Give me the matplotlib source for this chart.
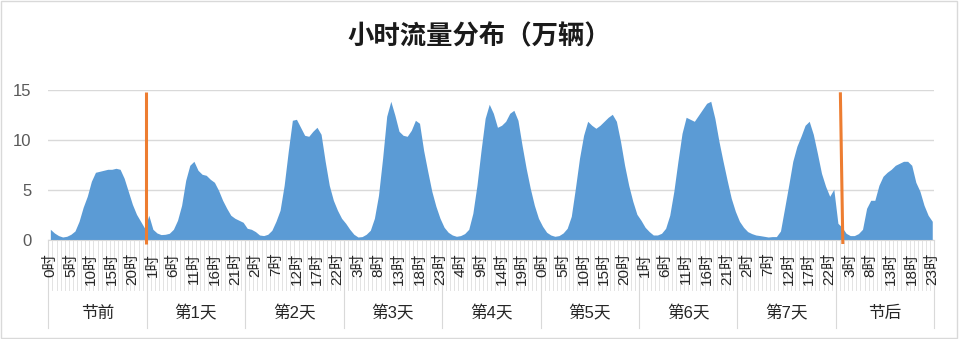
import matplotlib
matplotlib.use("Agg")
import matplotlib.pyplot as plt
from matplotlib.patches import Rectangle

plt.rcParams['font.family'] = ['Liberation Sans', 'Noto Sans CJK SC', 'DejaVu Sans']

# 分组（每组 24 小时）
groups = ["节前", "第1天", "第2天", "第3天", "第4天", "第5天", "第6天", "第7天", "节后"]

# 每小时流量（万辆）
jieqian = [1.1, 0.73, 0.47, 0.33, 0.4, 0.6, 0.93, 1.9, 3.3, 4.4, 5.9, 6.8,
           6.9, 7.0, 7.1, 7.1, 7.2, 7.1, 6.2, 4.9, 3.6, 2.6, 1.9, 1.2]
day1 = [2.5, 1.1, 0.73, 0.57, 0.6, 0.7, 1.1, 2.0, 3.5, 6.0, 7.5, 7.9,
        7.0, 6.6, 6.5, 6.1, 5.8, 5.0, 4.0, 3.2, 2.5, 2.2, 2.0, 1.8]
day2 = [1.2, 1.1, 0.87, 0.53, 0.47, 0.6, 1.0, 1.9, 3.0, 5.5, 8.9, 12.0,
        12.1, 11.3, 10.5, 10.4, 10.9, 11.3, 10.6, 7.9, 5.5, 4.0, 3.0, 2.2]
day3 = [1.7, 1.1, 0.6, 0.33, 0.37, 0.6, 1.0, 2.2, 4.5, 8.2, 12.4, 13.9,
        12.5, 10.9, 10.5, 10.4, 11.0, 12.0, 11.7, 9.0, 6.9, 4.9, 3.4, 2.2]
day4 = [1.3, 0.8, 0.53, 0.4, 0.47, 0.67, 1.1, 2.7, 5.5, 9.0, 12.2, 13.6,
        12.7, 11.3, 11.5, 11.9, 12.7, 13.0, 12.0, 9.5, 7.2, 5.2, 3.5, 2.2]
day5 = [1.4, 0.8, 0.53, 0.4, 0.47, 0.73, 1.2, 2.4, 5.2, 8.2, 10.5, 11.9,
        11.5, 11.2, 11.5, 11.9, 12.3, 12.6, 11.9, 9.9, 7.5, 5.5, 3.9, 2.6]
day6 = [2.0, 1.3, 0.87, 0.53, 0.53, 0.7, 1.2, 2.5, 4.9, 7.9, 10.7, 12.3,
        12.1, 11.9, 12.5, 13.1, 13.7, 13.9, 12.2, 9.9, 7.9, 6.0, 4.2, 2.9]
day7 = [1.9, 1.3, 0.87, 0.67, 0.53, 0.47, 0.4, 0.33, 0.37, 0.37, 0.93, 3.2,
        5.5, 7.9, 9.4, 10.4, 11.5, 11.9, 10.6, 8.7, 6.7, 5.4, 4.4, 5.1]
jiehou = [1.7, 1.3, 0.7, 0.47, 0.47, 0.67, 1.1, 3.2, 4.0, 4.0, 5.5, 6.4,
          6.8, 7.1, 7.5, 7.7, 7.9, 7.9, 7.5, 5.8, 4.9, 3.5, 2.5, 1.9]

# 节日起止标记线（橙色）
marker_x = [(23.2, 23.2), (193.2, 192.6)]
marker_y = (-0.37, 14.8)

values = jieqian + day1 + day2 + day3 + day4 + day5 + day6 + day7 + jiehou
hours = list(range(len(values)))
tick_pos = list(range(0, len(values), 5))
tick_labels = [f"{h % 24}时" for h in tick_pos]

fig = plt.figure(figsize=(9.59, 3.39), dpi=100)
ax = fig.add_axes([48.3 / 959, 1 - 240.3 / 339, 886 / 959, 150 / 339])

ax.fill_between(hours, values, 0, color='#5b9bd5', linewidth=0, zorder=2)
for xs in marker_x:
    ax.plot(xs, marker_y, color='#ed7d31', linewidth=2.2, clip_on=False,
            solid_capstyle='butt', zorder=4)

ax.set_xlim(-0.5, len(values) - 0.5)
ax.set_ylim(0, 15)
ax.set_yticks([0, 5, 10, 15])
ax.grid(axis='y', color='#d9d9d9', linewidth=1)
ax.set_axisbelow(True)
for s in ['top', 'right', 'left']:
    ax.spines[s].set_visible(False)
ax.spines['bottom'].set_color('#d9d9d9')
ax.tick_params(axis='y', length=0, labelsize=12, labelcolor='#595959', pad=12)

ax.set_xticks(tick_pos)
ax.set_xticklabels(tick_labels, rotation=90, fontsize=11, color='#262626')
ax.tick_params(axis='x', length=0, pad=9)

# 分类刻度线和分组线（放在标签下面）
tr = ax.get_xaxis_transform()
for k in range(len(values) + 1):
    x = k - 0.5
    if k % 24 == 0 or k == len(values):
        ax.plot([x, x], [0, -0.587], color='#d9d9d9', linewidth=0.8,
                transform=tr, clip_on=False, zorder=0.1)
    else:
        ax.plot([x, x], [0, -0.333], color='#e3e3e3', linewidth=0.7,
                transform=tr, clip_on=False, zorder=0.1)

for g, name in enumerate(groups):
    start = g * 24 - 0.5
    end = min((g + 1) * 24, len(values)) - 0.5
    ax.text((start + end) / 2, -0.485, name, transform=tr, ha='center', va='center',
            fontsize=12, color='#262626')

fig.text(0.5, 1 - 37 / 339, "小时流量分布（万辆）", ha='center', va='center',
         fontsize=19, fontweight='bold', color='#1a1a1a',
         family=['Noto Sans CJK SC', 'DejaVu Sans'])

fig.patches.append(Rectangle((0.001, 0.004), 0.997, 0.993, transform=fig.transFigure,
                             fill=False, edgecolor='#d9d9d9', linewidth=1))

fig.savefig("out.png", dpi=100)
